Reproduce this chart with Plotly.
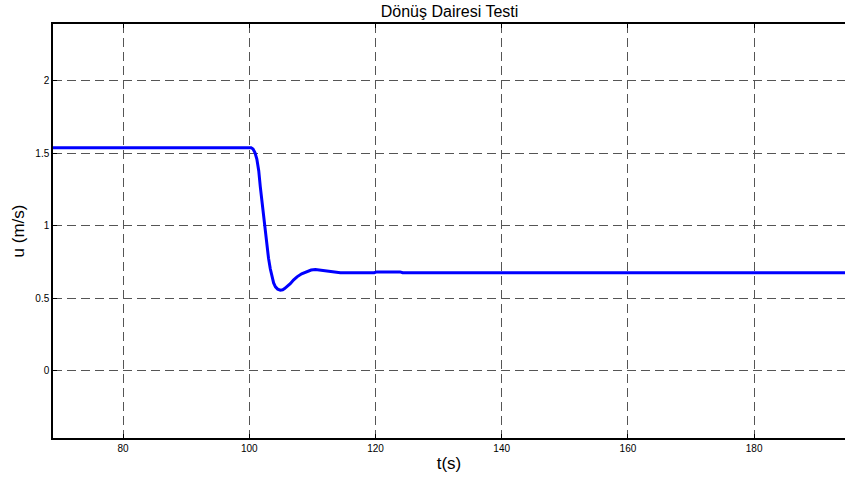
import plotly.graph_objects as go

t = [68.9, 100.0, 100.3, 100.6, 100.9, 101.2, 101.5, 101.75, 102.0, 102.28,
     102.55, 102.8, 103.05, 103.33, 103.6, 103.86, 104.15, 104.5, 104.92, 105.3,
     105.6, 105.98, 106.5, 107.0, 107.57, 108.3, 109.16, 109.8, 110.48, 111.3,
     112.33, 113.4, 114.44, 119.8, 120.2, 123.9, 124.3, 194.4]
u = [1.539, 1.539, 1.538, 1.530, 1.505, 1.46, 1.38, 1.268, 1.17, 1.061,
     0.96, 0.862, 0.776, 0.703, 0.645, 0.605, 0.578, 0.562, 0.555, 0.558,
     0.566, 0.578, 0.60, 0.625, 0.647, 0.668, 0.686, 0.694, 0.698, 0.693,
     0.684, 0.678, 0.675, 0.675, 0.681, 0.681, 0.675, 0.675]

x_ticks = [80, 100, 120, 140, 160, 180]
y_ticks = [0, 0.5, 1, 1.5, 2]
y_tick_labels = ["0", "0.5", "1", "1.5", "2"]

FONT = "Liberation Sans, Arial, sans-serif"

fig = go.Figure()
fig.add_trace(go.Scatter(x=t, y=u, mode="lines",
                         line=dict(color="#0000FF", width=3),
                         showlegend=False, hoverinfo="skip"))

axis_common = dict(
    showline=True, linecolor="black", linewidth=1.5,
    ticks="inside", ticklen=4, tickcolor="black", tickwidth=1,
    showgrid=True, gridcolor="#555555", gridwidth=1, griddash="9px,5px",
    zeroline=False,
    tickfont=dict(family=FONT, size=10, color="black"),
)

fig.update_layout(
    width=845, height=483,
    margin=dict(l=53, r=0, t=24, b=45),
    paper_bgcolor="white", plot_bgcolor="white",
    font=dict(family=FONT, color="black"),
    title=dict(text="Dönüş Dairesi Testi", x=0.532, xanchor="center", y=0.977, yanchor="middle",
               font=dict(size=16, color="black")),
    xaxis=dict(range=[68.9, 194.4], tickvals=x_ticks, mirror="ticks",
               title=dict(text="t(s)", font=dict(size=17), standoff=4), **axis_common),
    yaxis=dict(range=[-0.466, 2.393], tickvals=y_ticks, ticktext=y_tick_labels,
               title=dict(text="u (m/s)", font=dict(size=17), standoff=6), **axis_common),
)

fig.write_html("out.html")
